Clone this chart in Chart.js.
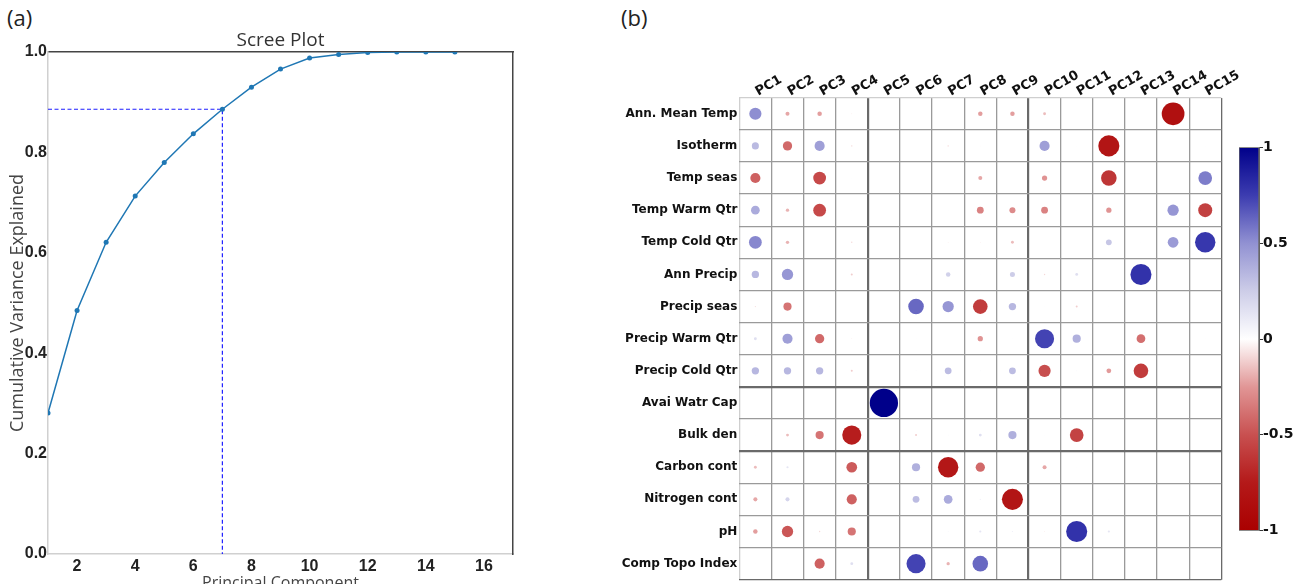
<!DOCTYPE html>
<html>
<head>
<meta charset="utf-8">
<script src="https://cdn.jsdelivr.net/npm/chart.js@4.4.1/dist/chart.umd.min.js"></script>
<style>
  body { margin: 0; width: 1299px; height: 584px; overflow: hidden; background: #fff; position: relative; }
  canvas { position: absolute; top: 0; }
  .panel-tag { position: absolute; top: 2px; font-family: 'Open Sans', sans-serif; font-size: 22px; color: #222; }
</style>
</head>
<body>
<div class="panel-tag" style="left:7px">(a)</div>
<div class="panel-tag" style="left:621px">(b)</div>
<canvas id="screeChart" width="580" height="600" style="left:0"></canvas>
<canvas id="loadingChart" width="645" height="584" style="left:600px"></canvas>
<canvas id="colorbar" width="69" height="584" style="left:1230px"></canvas>
<script>
// ---- panel (a): scree plot data ----
const pcNumbers = [1, 2, 3, 4, 5, 6, 7, 8, 9, 10, 11, 12, 13, 14, 15];
const cumVariance = [0.281, 0.485, 0.621, 0.713, 0.780, 0.837, 0.886, 0.930, 0.966, 0.988, 0.995, 0.999, 1.0, 1.0, 1.0];
const cutoffPC = 7;
const cutoffVariance = 0.886;
const pcTickValues = [2, 4, 6, 8, 10, 12, 14, 16];

// ---- panel (b): loadings per variable (PC1..PC15) ----
const pcLabels = ['PC1', 'PC2', 'PC3', 'PC4', 'PC5', 'PC6', 'PC7', 'PC8', 'PC9', 'PC10', 'PC11', 'PC12', 'PC13', 'PC14', 'PC15'];
const variableLabels = ['Ann. Mean Temp', 'Isotherm', 'Temp seas', 'Temp Warm Qtr', 'Temp Cold Qtr', 'Ann Precip', 'Precip seas',
  'Precip Warm Qtr', 'Precip Cold Qtr', 'Avai Watr Cap', 'Bulk den', 'Carbon cont', 'Nitrogen cont', 'pH', 'Comp Topo Index'];

const annMeanTemp   = [0.51, -0.21, -0.23, -0.06, 0, 0, 0, -0.23, -0.23, -0.16, 0, 0.04, 0, -0.84, 0.04];
const isotherm      = [0.33, -0.41, 0.44, -0.09, 0, 0, -0.09, -0.04, 0, 0.44, 0.04, -0.79, 0.04, 0.04, 0.04];
const tempSeas      = [-0.44, 0, -0.53, 0.04, 0, 0.04, 0.04, -0.21, 0, -0.26, 0, -0.62, 0, 0.04, 0.56];
const tempWarmQtr   = [0.39, -0.18, -0.53, 0.04, 0, 0.04, 0.04, -0.32, -0.29, -0.32, 0.04, -0.26, 0.04, 0.48, -0.57];
const tempColdQtr   = [0.53, -0.18, 0, -0.09, 0, 0, -0.06, -0.06, -0.16, 0, 0, 0.28, 0.04, 0.46, 0.77];
const annPrecip     = [0.34, 0.48, 0, -0.12, 0, 0.04, 0.23, 0.04, 0.25, -0.09, 0.16, 0, 0.79, 0, 0];
const precipSeas    = [-0.08, -0.37, 0.04, 0, 0, 0.62, 0.48, -0.59, 0.34, 0.04, -0.12, 0.04, 0, 0, 0];
const precipWarmQtr = [0.16, 0.44, -0.41, -0.06, 0, 0.04, 0, -0.26, 0.04, 0.73, 0.37, 0, -0.39, 0, 0.04];
const precipColdQtr = [0.34, 0.34, 0.34, -0.12, 0, 0.06, 0.32, 0.06, 0.32, -0.51, 0.06, -0.24, -0.59, 0, 0.04];
const availWaterCap = [0, 0, 0, 0, 1.0, 0, 0, 0, 0, 0, 0, 0, 0, 0, 0];
const bulkDen       = [0.04, -0.16, -0.37, -0.73, 0, -0.12, 0.06, 0.16, 0.37, 0.04, -0.56, 0.04, 0, 0, 0];
const carbonCont    = [-0.16, 0.13, 0, -0.46, 0, 0.37, -0.77, -0.41, 0, -0.21, 0.04, 0, 0, 0, 0];
const nitrogenCont  = [-0.21, 0.21, 0, -0.44, 0, 0.32, 0.39, 0.08, -0.79, 0, 0, 0.04, 0, 0, 0];
const phLoad        = [-0.23, -0.48, -0.09, -0.37, 0, 0, 0.06, 0.13, 0.08, -0.06, 0.79, 0.13, 0, 0, 0];
const compTopoIndex = [0.04, 0.04, -0.44, 0.16, 0, 0.73, -0.18, 0.62, 0, 0, 0, 0, 0, 0, 0.04];

const colorbarTicks = [-1, -0.5, 0, 0.5, 1];

// colour map red (-1) -> white (0) -> navy (1)
const cmapValues = [-1, -0.75, -0.5, -0.25, 0, 0.25, 0.5, 0.75, 1];
const cmapColors = [[170, 0, 0], [180, 25, 25], [200, 80, 80], [225, 150, 150], [255, 255, 255],
  [205, 205, 232], [145, 145, 210], [60, 60, 176], [0, 0, 138]];

function loadingColor(v) {
  v = Math.max(-1, Math.min(1, v));
  for (let i = 0; i < cmapValues.length - 1; i++) {
    if (v <= cmapValues[i + 1]) {
      const t = (v - cmapValues[i]) / (cmapValues[i + 1] - cmapValues[i]);
      const a = cmapColors[i], b = cmapColors[i + 1];
      const c = a.map((ch, k) => Math.round(ch + (b[k] - ch) * t));
      return `rgb(${c[0]},${c[1]},${c[2]})`;
    }
  }
  return 'rgb(0,0,138)';
}

const tickFont = { family: 'Liberation Sans', weight: 'bold', size: 16 };

// ---------- (a) scree plot ----------
new Chart(document.getElementById('screeChart'), {
  type: 'line',
  data: {
    datasets: [
      {
        data: pcNumbers.map((pc, i) => ({ x: pc, y: cumVariance[i] })),
        borderColor: '#1f77b4',
        backgroundColor: '#1f77b4',
        borderWidth: 1.5,
        pointRadius: 2.5,
        pointBorderWidth: 0,
        tension: 0,
        order: 0,
      },
      {
        // cut-off guide lines at PC7
        data: [{ x: pcNumbers[0], y: cutoffVariance }, { x: cutoffPC, y: cutoffVariance }, { x: cutoffPC, y: 0 }],
        borderColor: '#1f1fff',
        borderWidth: 1.2,
        borderDash: [4, 2.5],
        pointRadius: 0,
        tension: 0,
        order: 1,
      },
    ],
  },
  options: {
    responsive: false,
    animation: false,
    layout: { padding: 0, autoPadding: false },
    plugins: { legend: { display: false }, tooltip: { enabled: false } },
    scales: {
      x: {
        type: 'linear', position: 'bottom', min: 1, max: 17,
        afterBuildTicks: s => { s.ticks = pcTickValues.map(v => ({ value: v })); },
        grid: { display: false, drawTicks: false },
        border: { color: '#d0d0d0', width: 1.5 },
        ticks: { padding: 3, color: '#222', font: tickFont },
        title: { display: true, text: 'Principal Component', color: '#444', font: { family: 'Open Sans', size: 16 }, padding: { top: 0, bottom: 7 } },
        afterFit: s => { s.height = 46; s.paddingLeft = 0; s.paddingRight = 0; },
      },
      x2: {
        type: 'linear', position: 'top', min: 1, max: 17,
        grid: { display: false, drawTicks: false },
        border: { color: '#444', width: 1.5 },
        ticks: { display: false },
        title: { display: true, text: 'Scree Plot', color: '#333', font: { family: 'Open Sans', size: 19 }, padding: { top: 29, bottom: 0 } },
        afterFit: s => { s.height = 52; s.paddingLeft = 0; s.paddingRight = 0; },
      },
      y: {
        type: 'linear', position: 'left', min: 0, max: 1,
        grid: { display: false, drawTicks: false },
        border: { color: '#d0d0d0', width: 1.5 },
        ticks: { stepSize: 0.2, padding: 1, color: '#222', font: tickFont, callback: v => v.toFixed(1) },
        title: { display: true, text: 'Cumulative Variance Explained', color: '#444', font: { family: 'Open Sans', size: 18 }, padding: { top: 7, bottom: 0 } },
        afterFit: s => { s.width = 48; s.paddingTop = 0; s.paddingBottom = 0; },
      },
      y2: {
        type: 'linear', position: 'right', min: 0, max: 1,
        grid: { display: false, drawTicks: false },
        border: { color: '#444', width: 1.5 },
        ticks: { display: false },
        afterFit: s => { s.width = 67; },
      },
    },
  },
});

// ---------- (b) loadings bubble matrix ----------
const loadingRows = [annMeanTemp, isotherm, tempSeas, tempWarmQtr, tempColdQtr, annPrecip, precipSeas,
  precipWarmQtr, precipColdQtr, availWaterCap, bulkDen, carbonCont, nitrogenCont, phLoad, compTopoIndex];

const bubblePoints = [];
loadingRows.forEach((row, i) => {
  row.forEach((v, j) => {
    bubblePoints.push({ x: pcLabels[j], y: variableLabels[i], v: v });
  });
});

const labelFont = { family: 'DejaVu Sans', weight: 'bold', size: 12 };

function gridColor(c, n, thick) {
  if (c.index === 0) return '#cfcfcf';
  if (c.index === undefined || c.index === n) return '#6a6a6a';
  return thick.includes(c.index) ? '#6a6a6a' : '#9a9a9a';
}
function gridWidth(c, thick) {
  return thick.includes(c.index) ? 2.2 : 1.3;
}

new Chart(document.getElementById('loadingChart'), {
  type: 'bubble',
  data: {
    datasets: [{
      data: bubblePoints,
      backgroundColor: ctx => loadingColor(ctx.raw ? ctx.raw.v : 0),
      borderWidth: 0,
      radius: ctx => {
        // bubble size grows with |loading|, relative to the cell size
        const sx = ctx.chart.scales.x;
        const cell = sx && sx.width ? sx.width / pcLabels.length : 32.13;
        return Math.pow(Math.abs(ctx.raw ? ctx.raw.v : 0), 1.25) * cell * 0.44;
      },
    }],
  },
  options: {
    responsive: false,
    animation: false,
    layout: { padding: { left: 0, top: 0, right: 23.7, bottom: 4.3 }, autoPadding: false },
    plugins: { legend: { display: false }, tooltip: { enabled: false } },
    scales: {
      x: {
        type: 'category', position: 'top', labels: pcLabels, offset: true,
        grid: { offset: true, drawTicks: false, color: c => gridColor(c, 15, [4, 9]), lineWidth: c => gridWidth(c, [4, 9]) },
        border: { display: false },
        ticks: { minRotation: 30, maxRotation: 30, padding: -2, labelOffset: 9, color: '#111', font: { family: 'DejaVu Sans', weight: 'bold', size: 13 }, autoSkip: false },
        afterFit: s => { s.height = 97.7; s.paddingLeft = 0; s.paddingRight = 0; },
      },
      y: {
        type: 'category', position: 'left', labels: variableLabels, offset: true,
        grid: { offset: true, drawTicks: false, color: c => gridColor(c, 15, [9, 11]), lineWidth: c => gridWidth(c, [9, 11]) },
        border: { display: false },
        ticks: { padding: 2, color: '#111', font: labelFont, autoSkip: false },
        afterFit: s => { s.width = 139.3; s.paddingTop = 0; s.paddingBottom = 0; },
      },
    },
  },
});

// ---------- colour bar ----------
new Chart(document.getElementById('colorbar'), {
  type: 'bar',
  data: {
    labels: [''],
    datasets: [{
      data: [[colorbarTicks[0], colorbarTicks[colorbarTicks.length - 1]]],
      backgroundColor: ctx => {
        const area = ctx.chart.chartArea;
        if (!area) return '#fff';
        const g = ctx.chart.ctx.createLinearGradient(0, area.bottom, 0, area.top);
        cmapValues.forEach((v, i) => {
          const c = cmapColors[i];
          g.addColorStop((v + 1) / 2, `rgb(${c[0]},${c[1]},${c[2]})`);
        });
        return g;
      },
      borderColor: '#666',
      borderWidth: 1,
      borderSkipped: false,
      barPercentage: 1,
      categoryPercentage: 1,
    }],
  },
  options: {
    responsive: false,
    animation: false,
    layout: { padding: { left: 9, top: 147.3, right: 0, bottom: 53.3 }, autoPadding: false },
    plugins: { legend: { display: false }, tooltip: { enabled: false } },
    scales: {
      x: { display: false },
      y: {
        type: 'linear', position: 'right', min: -1, max: 1,
        afterBuildTicks: s => { s.ticks = colorbarTicks.map(v => ({ value: v })); },
        grid: { drawOnChartArea: false, drawTicks: true, tickLength: 4, color: '#333' },
        border: { display: true, color: '#666' },
        ticks: { padding: 0, color: '#111', font: { family: 'DejaVu Sans', weight: 'bold', size: 14 }, callback: v => String(v) },
        afterFit: s => { s.width = 40; s.paddingTop = 0; s.paddingBottom = 0; },
      },
    },
  },
});
</script>
</body>
</html>
